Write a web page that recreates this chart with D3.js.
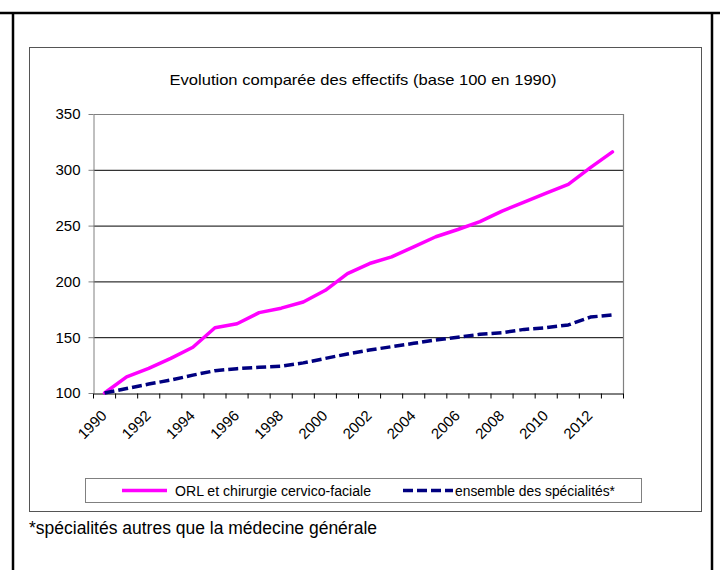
<!DOCTYPE html>
<html><head><meta charset="utf-8">
<script src="https://cdn.jsdelivr.net/npm/d3@7"></script>
<style>body{margin:0;background:#fff}svg{display:block}</style>
</head><body>
<svg id="c" width="720" height="570"></svg>
<script>
const years = d3.range(1990, 2014).map(String);
const orl = [100,114.5,122,131,141,158.5,162,172,176,181.5,192,207,216,222,231,240,246.5,253.5,263,271,279,287,302,316];
const ensemble = [100,104,108,111.6,116,120,121.8,123,124,127,131,135,138.5,141.5,144.5,147.5,150,152.6,154,157,158.5,161,168,170];
const yTicks = [100,150,200,250,300,350];
const xLabels = years.filter((d,i)=>i%2===0);
const title = "Evolution comparée des effectifs (base 100 en 1990)";
const legendLabels = ["ORL et chirurgie cervico-faciale","ensemble des spécialités*"];
const footnote = "*spécialités autres que la médecine générale";

const svg = d3.select("#c");
// outer frame
svg.append("path").attr("d","M0,13H720").attr("stroke","#000").attr("stroke-width",2.5);
svg.append("path").attr("d","M13,13V570").attr("stroke","#000").attr("stroke-width",2.5);
svg.append("path").attr("d","M712,13V570").attr("stroke","#000").attr("stroke-width",2.5);
// inner chart box
svg.append("rect").attr("x",29.5).attr("y",47.5).attr("width",672).attr("height",464)
  .attr("fill","#fff").attr("stroke","#555").attr("stroke-width",1);

const L=93.5, R=623.5, T=114, B=393;
const x = d3.scaleBand().domain(years).range([L,R]);
const y = d3.scaleLinear().domain([100,350]).range([B,T]);

// title
svg.append("text").attr("x",363).attr("y",85).attr("text-anchor","middle")
  .attr("font-family","Liberation Sans, Arial, sans-serif").attr("font-size",15)
  .attr("textLength",387).attr("lengthAdjust","spacingAndGlyphs").text(title);

// gridlines
svg.append("g").selectAll("line").data(yTicks.filter(d=>d>100&&d<350)).join("line")
  .attr("x1",L).attr("x2",R).attr("y1",d=>y(d)+0.5).attr("y2",d=>y(d)+0.5)
  .attr("stroke","#000").attr("stroke-width",1);
// plot border (top, right gray)
svg.append("path").attr("d",`M${L},${y(350)+0.5}H${R}V${B}`).attr("fill","none").attr("stroke","#808080").attr("stroke-width",1.2);

// y axis
const ya = svg.append("g").attr("transform",`translate(${L},0)`)
  .call(d3.axisLeft(y).tickValues(yTicks).tickSize(5).tickSizeOuter(0));
ya.select(".domain").attr("stroke","#808080");
ya.selectAll(".tick line").attr("stroke","#808080");
ya.selectAll("text").attr("font-family","Liberation Sans, Arial, sans-serif").attr("font-size",15).attr("fill","#000").attr("x",-13);

// x axis
const xa = svg.append("g").attr("transform",`translate(0,${B+0.5})`)
  .call(d3.axisBottom(x).tickValues([]).tickSizeOuter(0));
xa.select(".domain").attr("stroke","#000");
const tickPos = years.map(d=>x(d)).concat([R]);
xa.selectAll("line.t").data(tickPos).join("line").attr("class","t")
  .attr("x1",d=>d).attr("x2",d=>d).attr("y1",0).attr("y2",5).attr("stroke","#000");
xa.selectAll("text.l").data(xLabels).join("text").attr("class","l")
  .attr("transform",d=>`translate(${x(d)+x.bandwidth()/2+3},23) rotate(-45)`)
  .attr("text-anchor","end")
  .attr("font-family","Liberation Sans, Arial, sans-serif").attr("font-size",15).attr("fill","#000")
  .text(d=>d);

// lines
const line = d3.line().x((d,i)=>x(years[i])+x.bandwidth()/2).y(d=>y(d));
svg.append("path").datum(orl).attr("d",line).attr("fill","none")
  .attr("stroke","#ff00ff").attr("stroke-width",3.5).attr("stroke-linejoin","round").attr("stroke-linecap","round");
svg.append("path").datum(ensemble).attr("d",line).attr("fill","none")
  .attr("stroke","#000080").attr("stroke-width",3.5).attr("stroke-dasharray","10,4").attr("stroke-linejoin","round");

// legend
const lg = svg.append("g");
lg.append("rect").attr("x",85.5).attr("y",478.5).attr("width",556).attr("height",24)
  .attr("fill","#fff").attr("stroke","#808080");
lg.append("line").attr("x1",122).attr("x2",167).attr("y1",490.5).attr("y2",490.5)
  .attr("stroke","#ff00ff").attr("stroke-width",3.5);
lg.append("text").attr("x",175).attr("y",495.5).attr("font-family","Liberation Sans Narrow, Arial Narrow, Liberation Sans, sans-serif")
  .attr("font-size",14).attr("textLength",196).attr("lengthAdjust","spacingAndGlyphs").text(legendLabels[0]);
lg.append("line").attr("x1",403).attr("x2",453).attr("y1",490.5).attr("y2",490.5)
  .attr("stroke","#000080").attr("stroke-width",3.5).attr("stroke-dasharray","10,4");
lg.append("text").attr("x",455).attr("y",495.5).attr("font-family","Liberation Sans Narrow, Arial Narrow, Liberation Sans, sans-serif")
  .attr("font-size",14).attr("textLength",160).attr("lengthAdjust","spacingAndGlyphs").text(legendLabels[1]);

// footnote
svg.append("text").attr("x",29).attr("y",534).attr("font-family","Liberation Sans Narrow, Arial Narrow, Liberation Sans, sans-serif")
  .attr("font-size",17.5).attr("textLength",348).attr("lengthAdjust","spacingAndGlyphs").text(footnote);
</script>
</body></html>
